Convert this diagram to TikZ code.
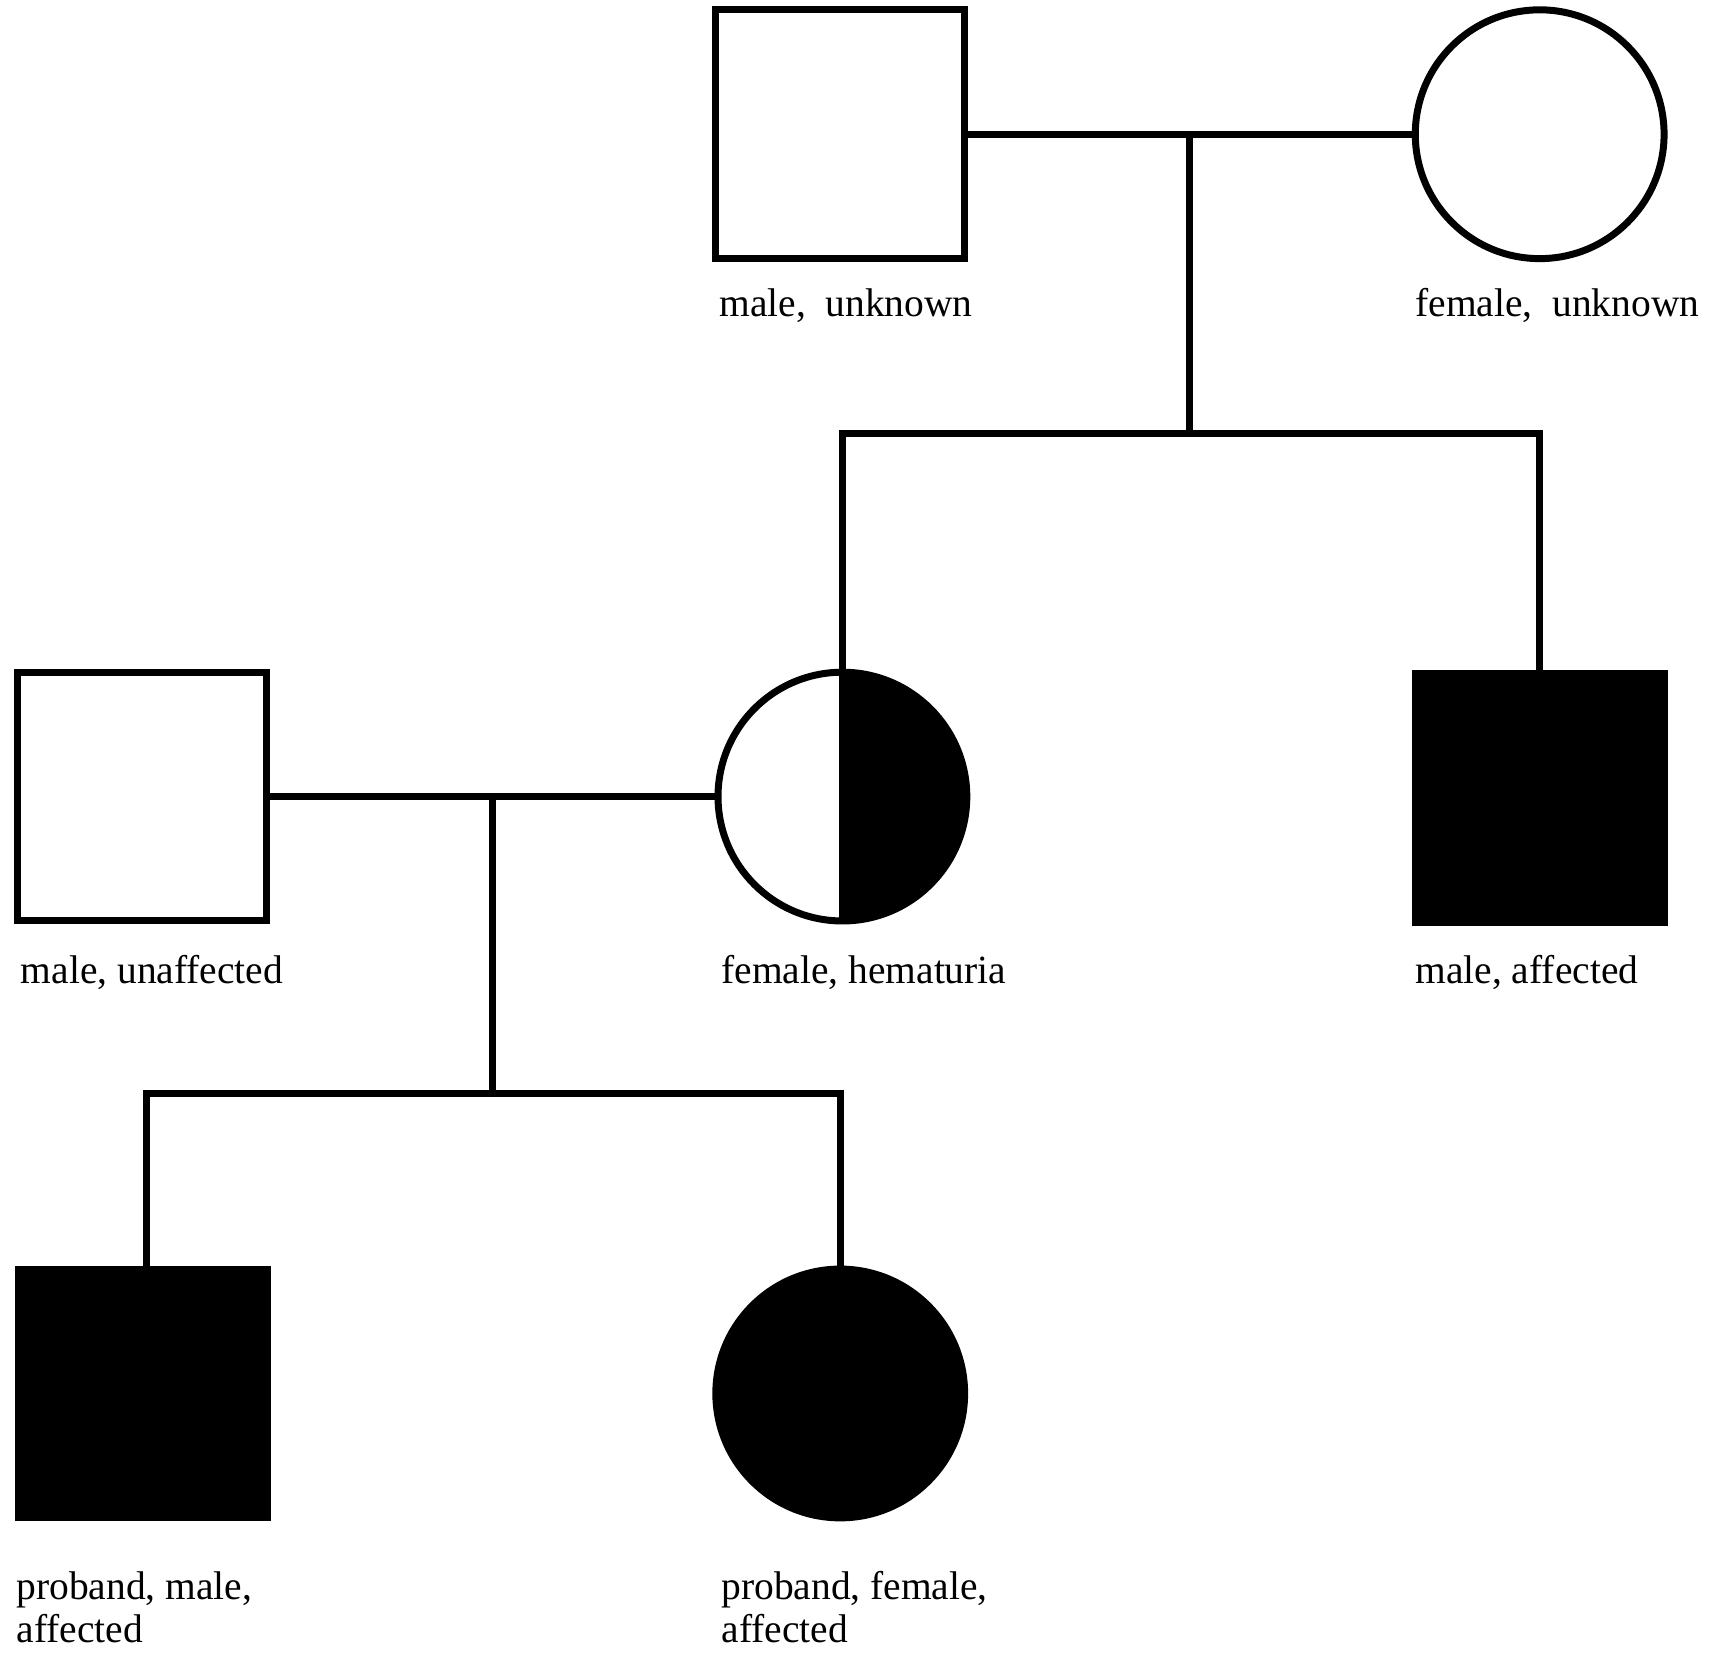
\documentclass[tikz,border=0pt]{standalone}
\usepackage{fontspec}
\setmainfont[FakeStretch=0.985]{Liberation Serif}
\begin{document}
\begin{tikzpicture}[x=0.5pt,y=-0.5pt, line width=3.2pt,
  male/.style={draw, rectangle, minimum size=114pt, inner sep=0pt},
  female/.style={draw, circle, minimum size=114pt, inner sep=0pt},
  aff/.style={fill=black},
  lab/.style={anchor=base west, inner sep=0pt, font=\fontsize{18.35pt}{19.6pt}\selectfont, align=left},
  link/.style={line width=3.2pt, line join=miter}]
\useasboundingbox (0,0) rectangle (1568,1526);
% generation I
\node[male] (A) at (770,123) {};
\node[female] (B) at (1411,123) {};
% generation II
\node[male] (C) at (130,730) {};
\node[female] (D) at (772,730) {};
\node[male,aff] (E) at (1411,731) {};
% generation III
\node[male,aff] (F) at (131,1277) {};
\node[female,aff] (G) at (770,1277) {};
% half-filled circle
\begin{scope}
  \path[clip] (D.center) ++(0,-130) rectangle ++(130,260);
  \fill (D.center) circle[radius=57pt];
\end{scope}
\draw (D.north) -- (D.south);
% labels
\node[lab] (lA) at (656,290.5) {male,~ unknown};
\node[lab] (lB) at (1294,290.5) {female,~ unknown};
\node[lab] (lC) at (16,901) {male, unaffected};
\node[lab] (lD) at (658,901) {female, hematuria};
\node[lab] (lE) at (1294,901) {male, affected};
\node[lab] (lF) at (12,1505) {proband, male,\\affected};
\node[lab] (lG) at (658,1505) {proband, female,\\affected};
% connectors
\coordinate (m1) at (1090,123);
\coordinate (s1) at (1090,397);
\coordinate (m2) at (451,730);
\coordinate (s2) at (451,1002);
\coordinate (dF) at (134,1162);
\draw[link] (A.east) -- (B.west);
\draw[link] (m1) -- (s1);
\draw[link] (D.north) -- (D.north |- s1) -- (E.north |- s1) -- (E.north);
\draw[link] (C.east) -- (D.west);
\draw[link] (m2) -- (s2);
\draw[link] (dF) -- (dF |- s2) -- (G.north |- s2) -- (G.north);
\end{tikzpicture}
\end{document}
